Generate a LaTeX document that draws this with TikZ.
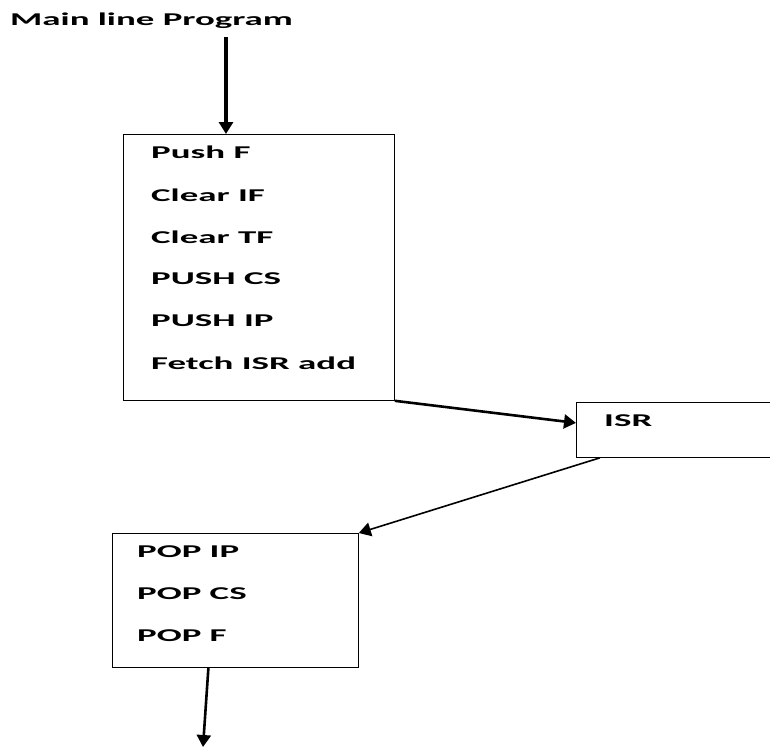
\documentclass[tikz,border=0pt]{standalone}
\usepackage{fontspec}
\setmainfont{Carlito}[FakeStretch=2.05]
\usetikzlibrary{arrows.meta}

\begin{document}
\begin{tikzpicture}[x=1pt, y=-1pt,
  every node/.style={font=\bfseries\fontsize{18}{20}\selectfont, anchor=west, inner sep=0pt},
  box/.style={draw=black, thick, anchor=north west},
  flow/.style={draw=black, line width=2.6pt, -{Triangle[length=12pt,width=14pt]}}]
\clip (0,0) rectangle (770,748);

\node (title) at (10,21) {Main line Program};

\node[box, minimum width=271pt, minimum height=266pt] (push) at (123,134) {};
\node (l1) at (151,152) {Push F};
\node (l2) at (151,195) {Clear IF};
\node (l3) at (151,237) {Clear TF};
\node (l4) at (151,279) {PUSH CS};
\node (l5) at (151,321) {PUSH IP};
\node (l6) at (151,363) {Fetch ISR add};

\node[box, minimum width=260pt, minimum height=55pt] (isr) at (576,402) {};
\node (i1) at (604,421) {ISR};

\node[box, minimum width=246pt, minimum height=134pt] (pop) at (112,533) {};
\node (p1) at (137,552) {POP IP};
\node (p2) at (137,594) {POP CS};
\node (p3) at (137,636) {POP F};

\coordinate (start) at (226,37);
\coordinate (ret) at (203,747);

\path (start) edge[flow, line width=3.5pt] (start |- push.north);
\path (push.south east) edge[flow] ([yshift=7pt]isr.west);
\path ([xshift=24pt]isr.south west) edge[flow, line width=1.6pt] (pop.north east);
\path ([xshift=-27pt]pop.south) edge[flow] (ret);
\end{tikzpicture}
\end{document}
